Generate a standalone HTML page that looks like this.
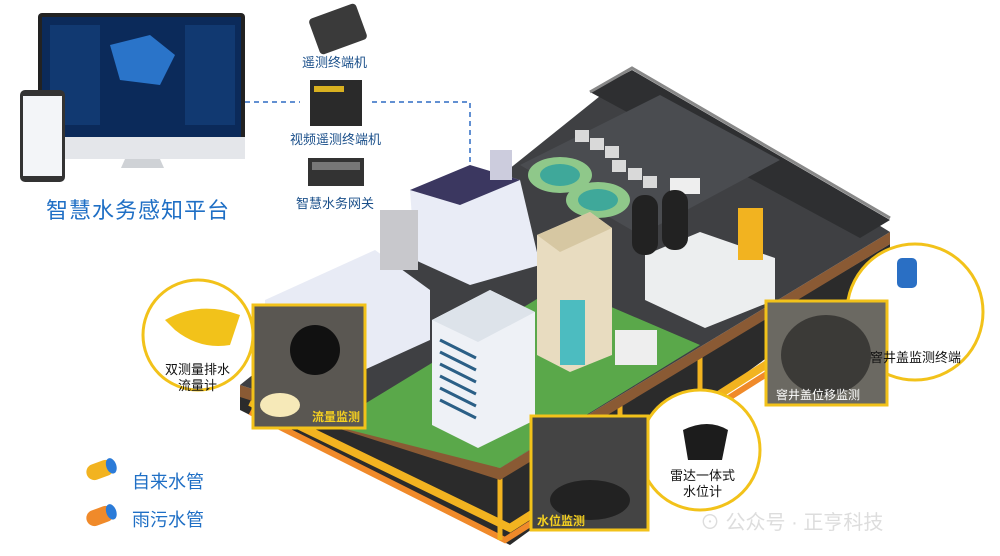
<!DOCTYPE html>
<html><head><meta charset="utf-8"><style>
body{margin:0;width:1000px;height:556px;background:#fff;overflow:hidden;position:relative;font-family:"Liberation Sans","Noto Sans CJK SC",sans-serif}
.a{position:absolute}
.t{position:absolute;color:#1a4f8a;font-size:13px;white-space:nowrap}
</style></head><body>
<svg class="a" style="left:0;top:0" width="1000" height="556" viewBox="0 0 1000 556">
<path d="M245 102 H300 M372 102 H470 V168" stroke="#2e6bc4" stroke-width="1.5" stroke-dasharray="5 4" fill="none"/>
<rect x="38" y="13" width="207" height="135" rx="4" fill="#222"/>
<rect x="42" y="17" width="199" height="120" fill="#0b2a5a"/>
<rect x="38" y="137" width="207" height="22" fill="#e4e6ea"/>
<path d="M125 159 L160 159 L164 168 L121 168Z" fill="#cfd2d6"/>
<rect x="50" y="25" width="50" height="100" fill="#14407a" opacity=".7"/>
<rect x="185" y="25" width="50" height="100" fill="#14407a" opacity=".7"/>
<path d="M110 45 L150 35 L175 55 L160 85 L120 80Z" fill="#2a74c9"/>
<rect x="20" y="90" width="45" height="92" rx="5" fill="#333"/>
<rect x="23" y="96" width="39" height="80" fill="#f3f5f8"/>
<rect x="313" y="10" width="50" height="38" rx="4" fill="#3a3a3a" transform="rotate(-20 338 29)"/>
<rect x="310" y="80" width="52" height="46" fill="#2a2a2a"/>
<rect x="314" y="86" width="30" height="6" fill="#d8b020"/>
<rect x="308" y="158" width="56" height="28" fill="#333"/>
<rect x="312" y="162" width="48" height="8" fill="#777"/>
<polygon points="240,395 500,478 890,244 890,268 510,545 240,410" fill="#2b2b2b"/>
<path d="M250 402 L510 528 L880 292" stroke="#f2b320" stroke-width="8" fill="none"/>
<path d="M250 412 L505 540 L880 302" stroke="#f08a2a" stroke-width="6" fill="none"/>
<path d="M500 470 V540 M620 400 V470 M700 350 V420 M790 300 V350" stroke="#f2b320" stroke-width="5"/>
<polygon points="240,385 500,468 890,232 890,244 500,480 240,397" fill="#8a5a34"/>
<polygon points="240,385 630,72 890,232 500,468" fill="#3f4043"/>
<polygon points="590,92 632,70 890,220 860,238" fill="#2e2f31"/>
<path d="M590 92 L632 68 L890 218" stroke="#888" stroke-width="3" fill="none"/>
<polygon points="330,425 560,285 700,345 500,468" fill="#5aa84a"/>
<polygon points="520,165 640,235 780,160 660,95" fill="#4a4c50"/>
<ellipse cx="560" cy="175" rx="32" ry="18" fill="#8fc88a"/>
<ellipse cx="560" cy="175" rx="20" ry="11" fill="#3fa89a"/>
<ellipse cx="598" cy="200" rx="32" ry="18" fill="#8fc88a"/>
<ellipse cx="598" cy="200" rx="20" ry="11" fill="#3fa89a"/>
<g fill="#d9d9d9"><rect x="575" y="130" width="14" height="12"/><rect x="590" y="138" width="14" height="12"/><rect x="605" y="146" width="14" height="12"/><rect x="612" y="160" width="14" height="12"/><rect x="628" y="168" width="14" height="12"/><rect x="643" y="176" width="14" height="12"/></g>
<rect x="670" y="178" width="30" height="16" fill="#eee"/>
<polygon points="265,300 375,250 430,290 430,340 320,390 265,340" fill="#e8ebf5"/>
<polygon points="410,190 470,165 520,180 540,265 470,285 415,260" fill="#e9ecf6"/>
<polygon points="410,190 470,165 520,180 460,205" fill="#3b3760"/>
<rect x="380" y="210" width="38" height="60" fill="#c8c8cc"/>
<rect x="490" y="150" width="22" height="30" fill="#ccd"/>
<polygon points="432,320 490,290 535,312 535,420 478,448 432,425" fill="#eef1f6"/>
<polygon points="432,320 490,290 535,312 478,342" fill="#dde3ea"/>
<g stroke="#2b5f86" stroke-width="3"><path d="M440 340 L476 358 M440 352 L476 370 M440 364 L476 382 M440 376 L476 394 M440 388 L476 406 M440 400 L476 418"/></g>
<polygon points="537,235 590,212 612,228 612,355 570,372 537,355" fill="#e8dcc0"/>
<polygon points="537,235 590,212 612,228 560,252" fill="#d6c7a2"/>
<rect x="560" y="300" width="25" height="65" fill="#4cbcc0"/>
<polygon points="645,255 700,232 775,258 775,300 705,328 645,300" fill="#eceeef"/>
<rect x="738" y="208" width="25" height="52" fill="#f2b320"/>
<rect x="632" y="195" width="26" height="60" rx="12" fill="#222"/>
<rect x="662" y="190" width="26" height="60" rx="12" fill="#222"/>
<rect x="615" y="330" width="42" height="35" fill="#eee"/>
<circle cx="198" cy="335" r="55" fill="#fff" stroke="#f2c21a" stroke-width="3"/>
<path d="M165 320 Q200 300 240 315 L230 345 Q200 350 175 330Z" fill="#f2c21a"/>
<rect x="253" y="305" width="112" height="123" fill="#5a5752" stroke="#f2c21a" stroke-width="3"/>
<circle cx="315" cy="350" r="25" fill="#111"/>
<ellipse cx="280" cy="405" rx="20" ry="12" fill="#f6e9b8"/>
<circle cx="700" cy="450" r="60" fill="#fff" stroke="#f2c21a" stroke-width="3"/>
<path d="M683 430 Q708 418 728 430 L722 460 H688Z" fill="#1c1c1c"/>
<rect x="531" y="416" width="117" height="114" fill="#444" stroke="#f2c21a" stroke-width="3"/>
<ellipse cx="590" cy="500" rx="40" ry="20" fill="#222"/>
<circle cx="915" cy="312" r="68" fill="#fff" stroke="#f2c21a" stroke-width="3"/>
<rect x="897" y="258" width="20" height="30" rx="5" fill="#2a6fc4"/>
<rect x="766" y="301" width="121" height="104" fill="#6b6962" stroke="#f2c21a" stroke-width="3"/>
<ellipse cx="826" cy="355" rx="45" ry="40" fill="#3b3a37"/>
<g transform="rotate(-20 100 470)"><rect x="86" y="462" width="28" height="16" rx="8" fill="#f2b320"/><ellipse cx="112" cy="470" rx="5" ry="8" fill="#2b7bd8"/></g>
<g transform="rotate(-20 100 516)"><rect x="86" y="508" width="28" height="16" rx="8" fill="#f08a2a"/><ellipse cx="112" cy="516" rx="5" ry="8" fill="#2b7bd8"/></g>
</svg>
<div class="t" style="left:46px;top:193px;font-size:22px;color:#1f6fc5;letter-spacing:1px">智慧水务感知平台</div>
<div class="t" style="left:302px;top:52px">遥测终端机</div>
<div class="t" style="left:290px;top:129px">视频遥测终端机</div>
<div class="t" style="left:296px;top:193px">智慧水务网关</div>
<div class="t" style="left:165px;top:362px;color:#111;text-align:center;line-height:16px">双测量排水<br>流量计</div>
<div class="t" style="left:312px;top:408px;color:#f5d020;font-weight:bold;font-size:12px">流量监测</div>
<div class="t" style="left:670px;top:468px;color:#111;text-align:center;line-height:16px">雷达一体式<br>水位计</div>
<div class="t" style="left:537px;top:512px;color:#f5d020;font-weight:bold;font-size:12px">水位监测</div>
<div class="t" style="left:870px;top:347px;color:#111">窨井盖监测终端</div>
<div class="t" style="left:776px;top:386px;color:#fff;font-size:12px">窨井盖位移监测</div>
<div class="t" style="left:132px;top:468px;font-size:18px;color:#1f6fc5">自来水管</div>
<div class="t" style="left:132px;top:506px;font-size:18px;color:#1f6fc5">雨污水管</div>
<div class="t" style="left:700px;top:506px;font-size:20px;color:#ddd">⊙ 公众号 · 正亨科技</div>
</body></html>
